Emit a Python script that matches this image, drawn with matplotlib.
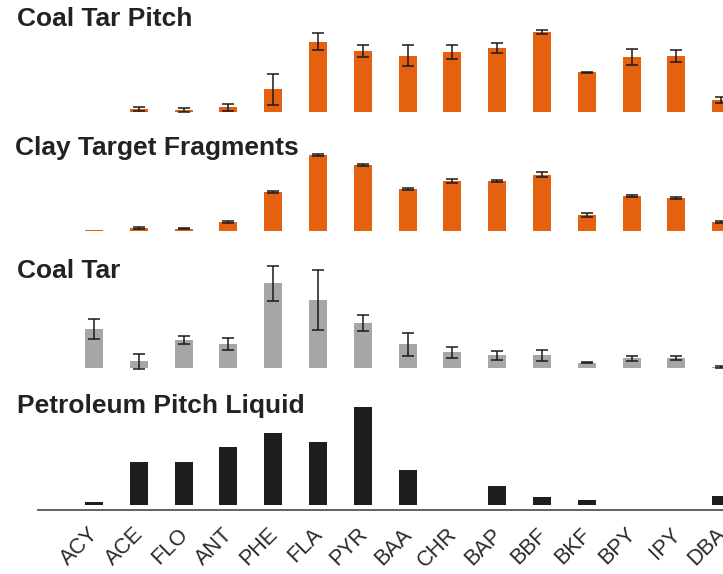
import matplotlib.pyplot as plt
import matplotlib.transforms as mtransforms
import numpy as np

plt.rcParams['font.family'] = ['Liberation Sans', 'DejaVu Sans']

compounds = ['ACY', 'ACE', 'FLO', 'ANT', 'PHE', 'FLA', 'PYR', 'BAA',
             'CHR', 'BAP', 'BBF', 'BKF', 'BPY', 'IPY', 'DBA']

# relative amounts per sample (same arbitrary units in every panel)
coal_tar_pitch = [0, 8, 4, 13, 67, 210, 182, 168, 178, 191, 238, 118, 164, 168, 35]
coal_tar_pitch_err = [np.nan, 7, 6, 10, 46, 26, 19, 32, 21, 16, 6, 2, 25, 18, 8]

clay_target = [3, 7, 6, 26, 117, 228, 196, 126, 149, 148, 168, 47, 104, 99, 26]
clay_target_err = [np.nan, 3, 2, 3, 3, 3, 3, 3, 6, 3, 8, 6, 3, 3, 3]

coal_tar = [117, 21, 85, 72, 255, 205, 136, 72, 48, 39, 39, 17, 30, 30, 4]
coal_tar_err = [30, 22, 11, 18, 53, 89, 23, 35, 17, 13, 17, 2, 8, 6, 2]

petroleum_pitch = [9, 128, 128, 175, 215, 188, 294, 106, 0, 56, 24, 14, 0, 0, 28]

W, H = 723, 574
fig = plt.figure(figsize=(W / 100, H / 100), dpi=100)

x = np.arange(len(compounds))
left_px = 38
ax_w = (W - left_px) / W
xlim = (-1.25, 14.04)

panels = [
    ('Coal Tar Pitch', coal_tar_pitch, coal_tar_pitch_err, '#E4610F', 111.7, 0, (17, 19)),
    ('Clay Target Fragments', clay_target, clay_target_err, '#E4610F', 230.7, 0, (15, 148)),
    ('Coal Tar', coal_tar, coal_tar_err, '#A6A6A6', 368.3, 0, (17, 271)),
    ('Petroleum Pitch Liquid', petroleum_pitch, None, '#1E1E1E', 510, 15, (17, 406)),
]

for title, vals, err, color, base_px, pad, (tx, ty) in panels:
    h_px = 90
    ax = fig.add_axes([left_px / W, 1 - base_px / H, ax_w, h_px / H])
    ax.set_xlim(*xlim)
    ax.set_ylim(-pad, 3 * h_px - pad)
    ax.bar(x, vals, width=0.4, color=color, clip_on=False)
    if err is not None:
        ax.errorbar(x, vals, yerr=err, fmt='none', ecolor='#1a1a1a',
                    elinewidth=1.1, capsize=4, capthick=1.1, clip_on=False)
    for s in ax.spines.values():
        s.set_visible(False)
    ax.set_yticks([])
    ax.patch.set_alpha(0)
    if title == 'Petroleum Pitch Liquid':
        ax.spines['bottom'].set_visible(True)
        ax.spines['bottom'].set_color('#555555')
        ax.spines['bottom'].set_linewidth(1.3)
        ax.set_xticks(x)
        ax.set_xticklabels(compounds, rotation=45, ha='right', va='top',
                           rotation_mode='anchor', fontsize=15.5, color='#2a2a2a')
        ax.tick_params(axis='x', length=0, pad=10)
        # nudge the rotated labels a little to the left
        shift = mtransforms.ScaledTranslation(-6 / 100, 0, fig.dpi_scale_trans)
        for lab in ax.get_xticklabels():
            lab.set_transform(lab.get_transform() + shift)
    else:
        ax.set_xticks([])
    fig.text(tx / W, 1 - ty / H, title, fontsize=19, fontweight='bold',
             color='#222222', va='center', ha='left')

fig.savefig('out.png', dpi=100)
